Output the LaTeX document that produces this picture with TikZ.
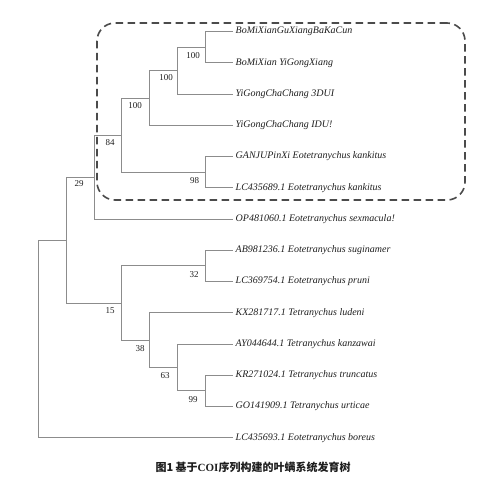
\documentclass[tikz,border=0pt]{standalone}
\usepackage{fontspec}
\setmainfont{Liberation Serif}
\newfontfamily\cjk{Noto Sans CJK SC}
\usetikzlibrary{positioning}
\definecolor{branchgray}{RGB}{140,140,140}
\definecolor{boxgray}{RGB}{75,75,75}
\definecolor{inkblack}{RGB}{30,30,30}

\tikzset{
  branch/.style={draw=branchgray, line width=0.9pt},
  taxon/.style={anchor=west, inner sep=2.5pt, text=inkblack,
                font=\fontsize{10}{12}\selectfont\itshape},
  boot/.style={inner sep=0pt, text=inkblack, font=\fontsize{9}{10}\selectfont},
  cladebox/.style={draw=boxgray, line width=1.6pt, dash pattern=on 7.5pt off 4.5pt,
                   rounded corners=18pt}
}

\begin{document}
\begin{tikzpicture}[x=1pt, y=-1pt]
  \useasboundingbox (0,0) rectangle (500,485);

  % taxa
  \node[taxon] (t1)  at (233,31.7)  {BoMiXianGuXiangBaKaCun};
  \node[taxon] (t2)  at (233,62.9)  {BoMiXian YiGongXiang};
  \node[taxon] (t3)  at (233,94.2)  {YiGongChaChang 3DUI};
  \node[taxon] (t4)  at (233,125.4) {YiGongChaChang IDU!};
  \node[taxon] (t5)  at (233,156.6) {GANJUPinXi Eotetranychus kankitus};
  \node[taxon] (t6)  at (233,187.9) {LC435689.1 Eotetranychus kankitus};
  \node[taxon] (t7)  at (233,219.1) {OP481060.1 Eotetranychus sexmacula!};
  \node[taxon] (t8)  at (233,250.3) {AB981236.1 Eotetranychus suginamer};
  \node[taxon] (t9)  at (233,281.5) {LC369754.1 Eotetranychus pruni};
  \node[taxon] (t10) at (233,312.8) {KX281717.1 Tetranychus ludeni};
  \node[taxon] (t11) at (233,344.0) {AY044644.1 Tetranychus kanzawai};
  \node[taxon] (t12) at (233,375.2) {KR271024.1 Tetranychus truncatus};
  \node[taxon] (t13) at (233,406.5) {GO141909.1 Tetranychus urticae};
  \node[taxon] (t14) at (233,437.7) {LC435693.1 Eotetranychus boreus};

  % internal nodes
  \coordinate (nA)   at (205.2,47.3);
  \coordinate (nB)   at (177.4,70.8);
  \coordinate (nC)   at (149.6,98.1);
  \coordinate (nD)   at (205.2,172.3);
  \coordinate (nE)   at (121.8,135.2);
  \coordinate (nF)   at (94.0,177.2);
  \coordinate (nG)   at (205.2,265.9);
  \coordinate (nH)   at (205.2,390.9);
  \coordinate (nI)   at (177.4,367.4);
  \coordinate (nJ)   at (149.6,340.1);
  \coordinate (nK)   at (121.8,303.0);
  \coordinate (nL)   at (66.2,240.1);
  \coordinate (root) at (38.4,338.9);

  \foreach \p/\c in {nA/t1, nA/t2, nB/nA, nB/t3, nC/nB, nC/t4, nD/t5, nD/t6,
                     nE/nC, nE/nD, nF/nE, nF/t7, nG/t8, nG/t9, nH/t12, nH/t13,
                     nI/t11, nI/nH, nJ/t10, nJ/nI, nK/nG, nK/nJ, nL/nF, nL/nK,
                     root/nL, root/t14}
    \draw[branch] (\p) |- (\c);

  % bootstrap values
  \node[boot] (bA) at (193,56)    {100};
  \node[boot] (bB) at (166,78)    {100};
  \node[boot] (bC) at (135,106)   {100};
  \node[boot] (bE) at (110,143)   {84};
  \node[boot] (bD) at (194.5,180.5) {98};
  \node[boot] (bF) at (79,184)    {29};
  \node[boot] (bG) at (194,275)   {32};
  \node[boot] (bK) at (110,311)   {15};
  \node[boot] (bJ) at (140,349)   {38};
  \node[boot] (bI) at (165,376)   {63};
  \node[boot] (bH) at (193,400)   {99};

  % clade frame
  \node[cladebox, minimum width=368pt, minimum height=177pt] (clade) at (281,111.5) {};

  \node[text=inkblack, font=\cjk\bfseries\fontsize{11}{13}\selectfont] (caption) at (253,467)
    {图1 基于{\rmfamily COI}序列构建的叶螨系统发育树};
\end{tikzpicture}
\end{document}
